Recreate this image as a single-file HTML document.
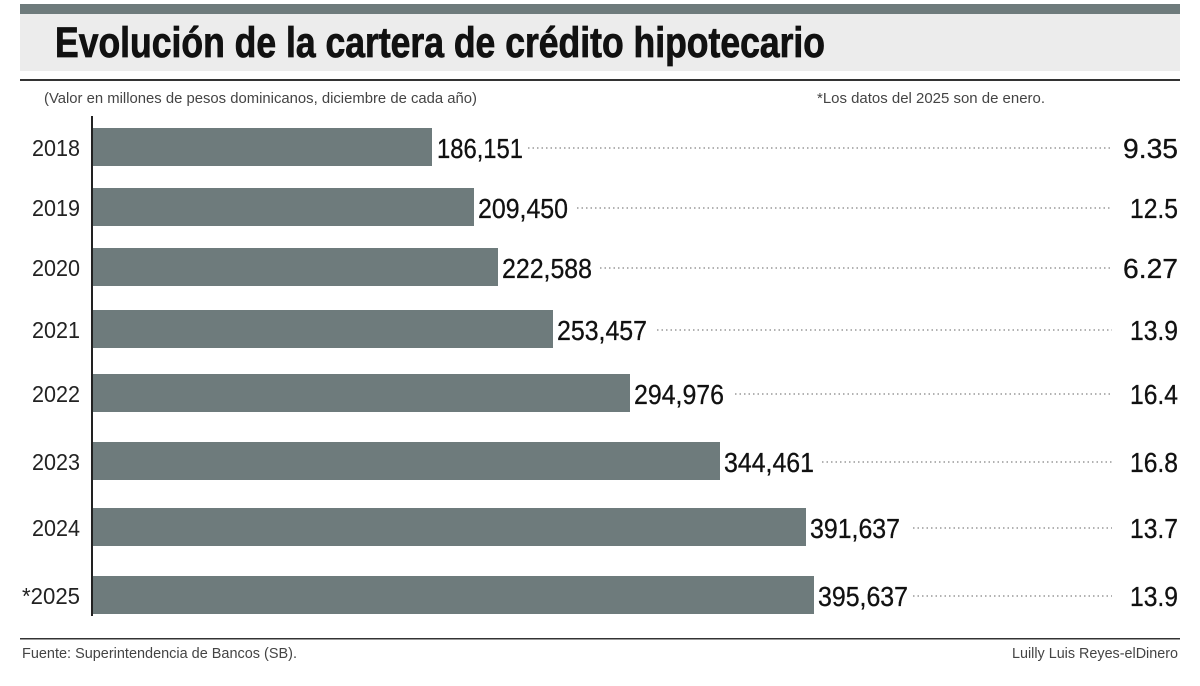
<!DOCTYPE html>
<html><head><meta charset="utf-8"><style>
html,body{margin:0;padding:0;background:#fff;}
svg{display:block}
text{font-family:"Liberation Sans",sans-serif;}
</style></head><body>
<svg width="1200" height="686" viewBox="0 0 1200 686" xmlns="http://www.w3.org/2000/svg">
<rect x="0" y="0" width="1200" height="686" fill="#fff"/>
<rect x="20" y="4" width="1160" height="10" fill="#6e7b7c"/>
<rect x="20" y="14" width="1160" height="57" fill="#ececec"/>
<text x="55" y="57" font-size="43" font-weight="bold" fill="#111" stroke="#111" stroke-width="0.8" textLength="770" lengthAdjust="spacingAndGlyphs">Evolución de la cartera de crédito hipotecario</text>
<rect x="20" y="79" width="1160" height="2" fill="#333"/>
<text x="44" y="103" font-size="15" fill="#444" textLength="433" lengthAdjust="spacingAndGlyphs">(Valor en millones de pesos dominicanos, diciembre de cada año)</text>
<text x="817" y="103" font-size="15" fill="#444" textLength="228" lengthAdjust="spacingAndGlyphs">*Los datos del 2025 son de enero.</text>
<rect x="91" y="116" width="2" height="500" fill="#222"/>
<g fill="#6e7b7c">
<rect x="93" y="128" width="339" height="38"/>
<rect x="93" y="188" width="381" height="38"/>
<rect x="93" y="248" width="405" height="38"/>
<rect x="93" y="310" width="460" height="38"/>
<rect x="93" y="374" width="537" height="38"/>
<rect x="93" y="442" width="627" height="38"/>
<rect x="93" y="508" width="713" height="38"/>
<rect x="93" y="576" width="721" height="38"/>
</g>
<g font-size="23" fill="#222" text-anchor="end">
<text x="80" y="156" textLength="48" lengthAdjust="spacingAndGlyphs">2018</text>
<text x="80" y="216" textLength="48" lengthAdjust="spacingAndGlyphs">2019</text>
<text x="80" y="276" textLength="48" lengthAdjust="spacingAndGlyphs">2020</text>
<text x="80" y="338" textLength="48" lengthAdjust="spacingAndGlyphs">2021</text>
<text x="80" y="402" textLength="48" lengthAdjust="spacingAndGlyphs">2022</text>
<text x="80" y="470" textLength="48" lengthAdjust="spacingAndGlyphs">2023</text>
<text x="80" y="536" textLength="48" lengthAdjust="spacingAndGlyphs">2024</text>
<text x="80" y="604" textLength="58" lengthAdjust="spacingAndGlyphs">*2025</text>
</g>
<g font-size="28" fill="#111" stroke="#111" stroke-width="0.3">
<text x="437" y="158" textLength="86" lengthAdjust="spacingAndGlyphs">186,151</text>
<text x="478" y="218" textLength="90" lengthAdjust="spacingAndGlyphs">209,450</text>
<text x="502" y="278" textLength="90" lengthAdjust="spacingAndGlyphs">222,588</text>
<text x="557" y="340" textLength="90" lengthAdjust="spacingAndGlyphs">253,457</text>
<text x="634" y="404" textLength="90" lengthAdjust="spacingAndGlyphs">294,976</text>
<text x="724" y="472" textLength="90" lengthAdjust="spacingAndGlyphs">344,461</text>
<text x="810" y="538" textLength="90" lengthAdjust="spacingAndGlyphs">391,637</text>
<text x="818" y="606" textLength="90" lengthAdjust="spacingAndGlyphs">395,637</text>
</g>
<g stroke="#999" stroke-width="1.5" stroke-dasharray="1.5,3">
<line x1="528" y1="148" x2="1112" y2="148"/>
<line x1="577" y1="208" x2="1112" y2="208"/>
<line x1="600" y1="268" x2="1112" y2="268"/>
<line x1="657" y1="330" x2="1112" y2="330"/>
<line x1="735" y1="394" x2="1112" y2="394"/>
<line x1="822" y1="462" x2="1112" y2="462"/>
<line x1="913" y1="528" x2="1112" y2="528"/>
<line x1="913" y1="596" x2="1112" y2="596"/>
</g>
<g font-size="28" fill="#111" stroke="#111" stroke-width="0.3" text-anchor="end">
<text x="1178" y="158" textLength="55" lengthAdjust="spacingAndGlyphs">9.35</text>
<text x="1178" y="218" textLength="48" lengthAdjust="spacingAndGlyphs">12.5</text>
<text x="1178" y="278" textLength="55" lengthAdjust="spacingAndGlyphs">6.27</text>
<text x="1178" y="340" textLength="48" lengthAdjust="spacingAndGlyphs">13.9</text>
<text x="1178" y="404" textLength="48" lengthAdjust="spacingAndGlyphs">16.4</text>
<text x="1178" y="472" textLength="48" lengthAdjust="spacingAndGlyphs">16.8</text>
<text x="1178" y="538" textLength="48" lengthAdjust="spacingAndGlyphs">13.7</text>
<text x="1178" y="606" textLength="48" lengthAdjust="spacingAndGlyphs">13.9</text>
</g>
<rect x="20" y="638" width="1160" height="1.5" fill="#333"/>
<text x="22" y="658" font-size="15" fill="#444" textLength="275" lengthAdjust="spacingAndGlyphs">Fuente: Superintendencia de Bancos (SB).</text>
<text x="1178" y="658" font-size="15" fill="#444" text-anchor="end" textLength="166" lengthAdjust="spacingAndGlyphs">Luilly Luis Reyes-elDinero</text>
</svg>
</body></html>
